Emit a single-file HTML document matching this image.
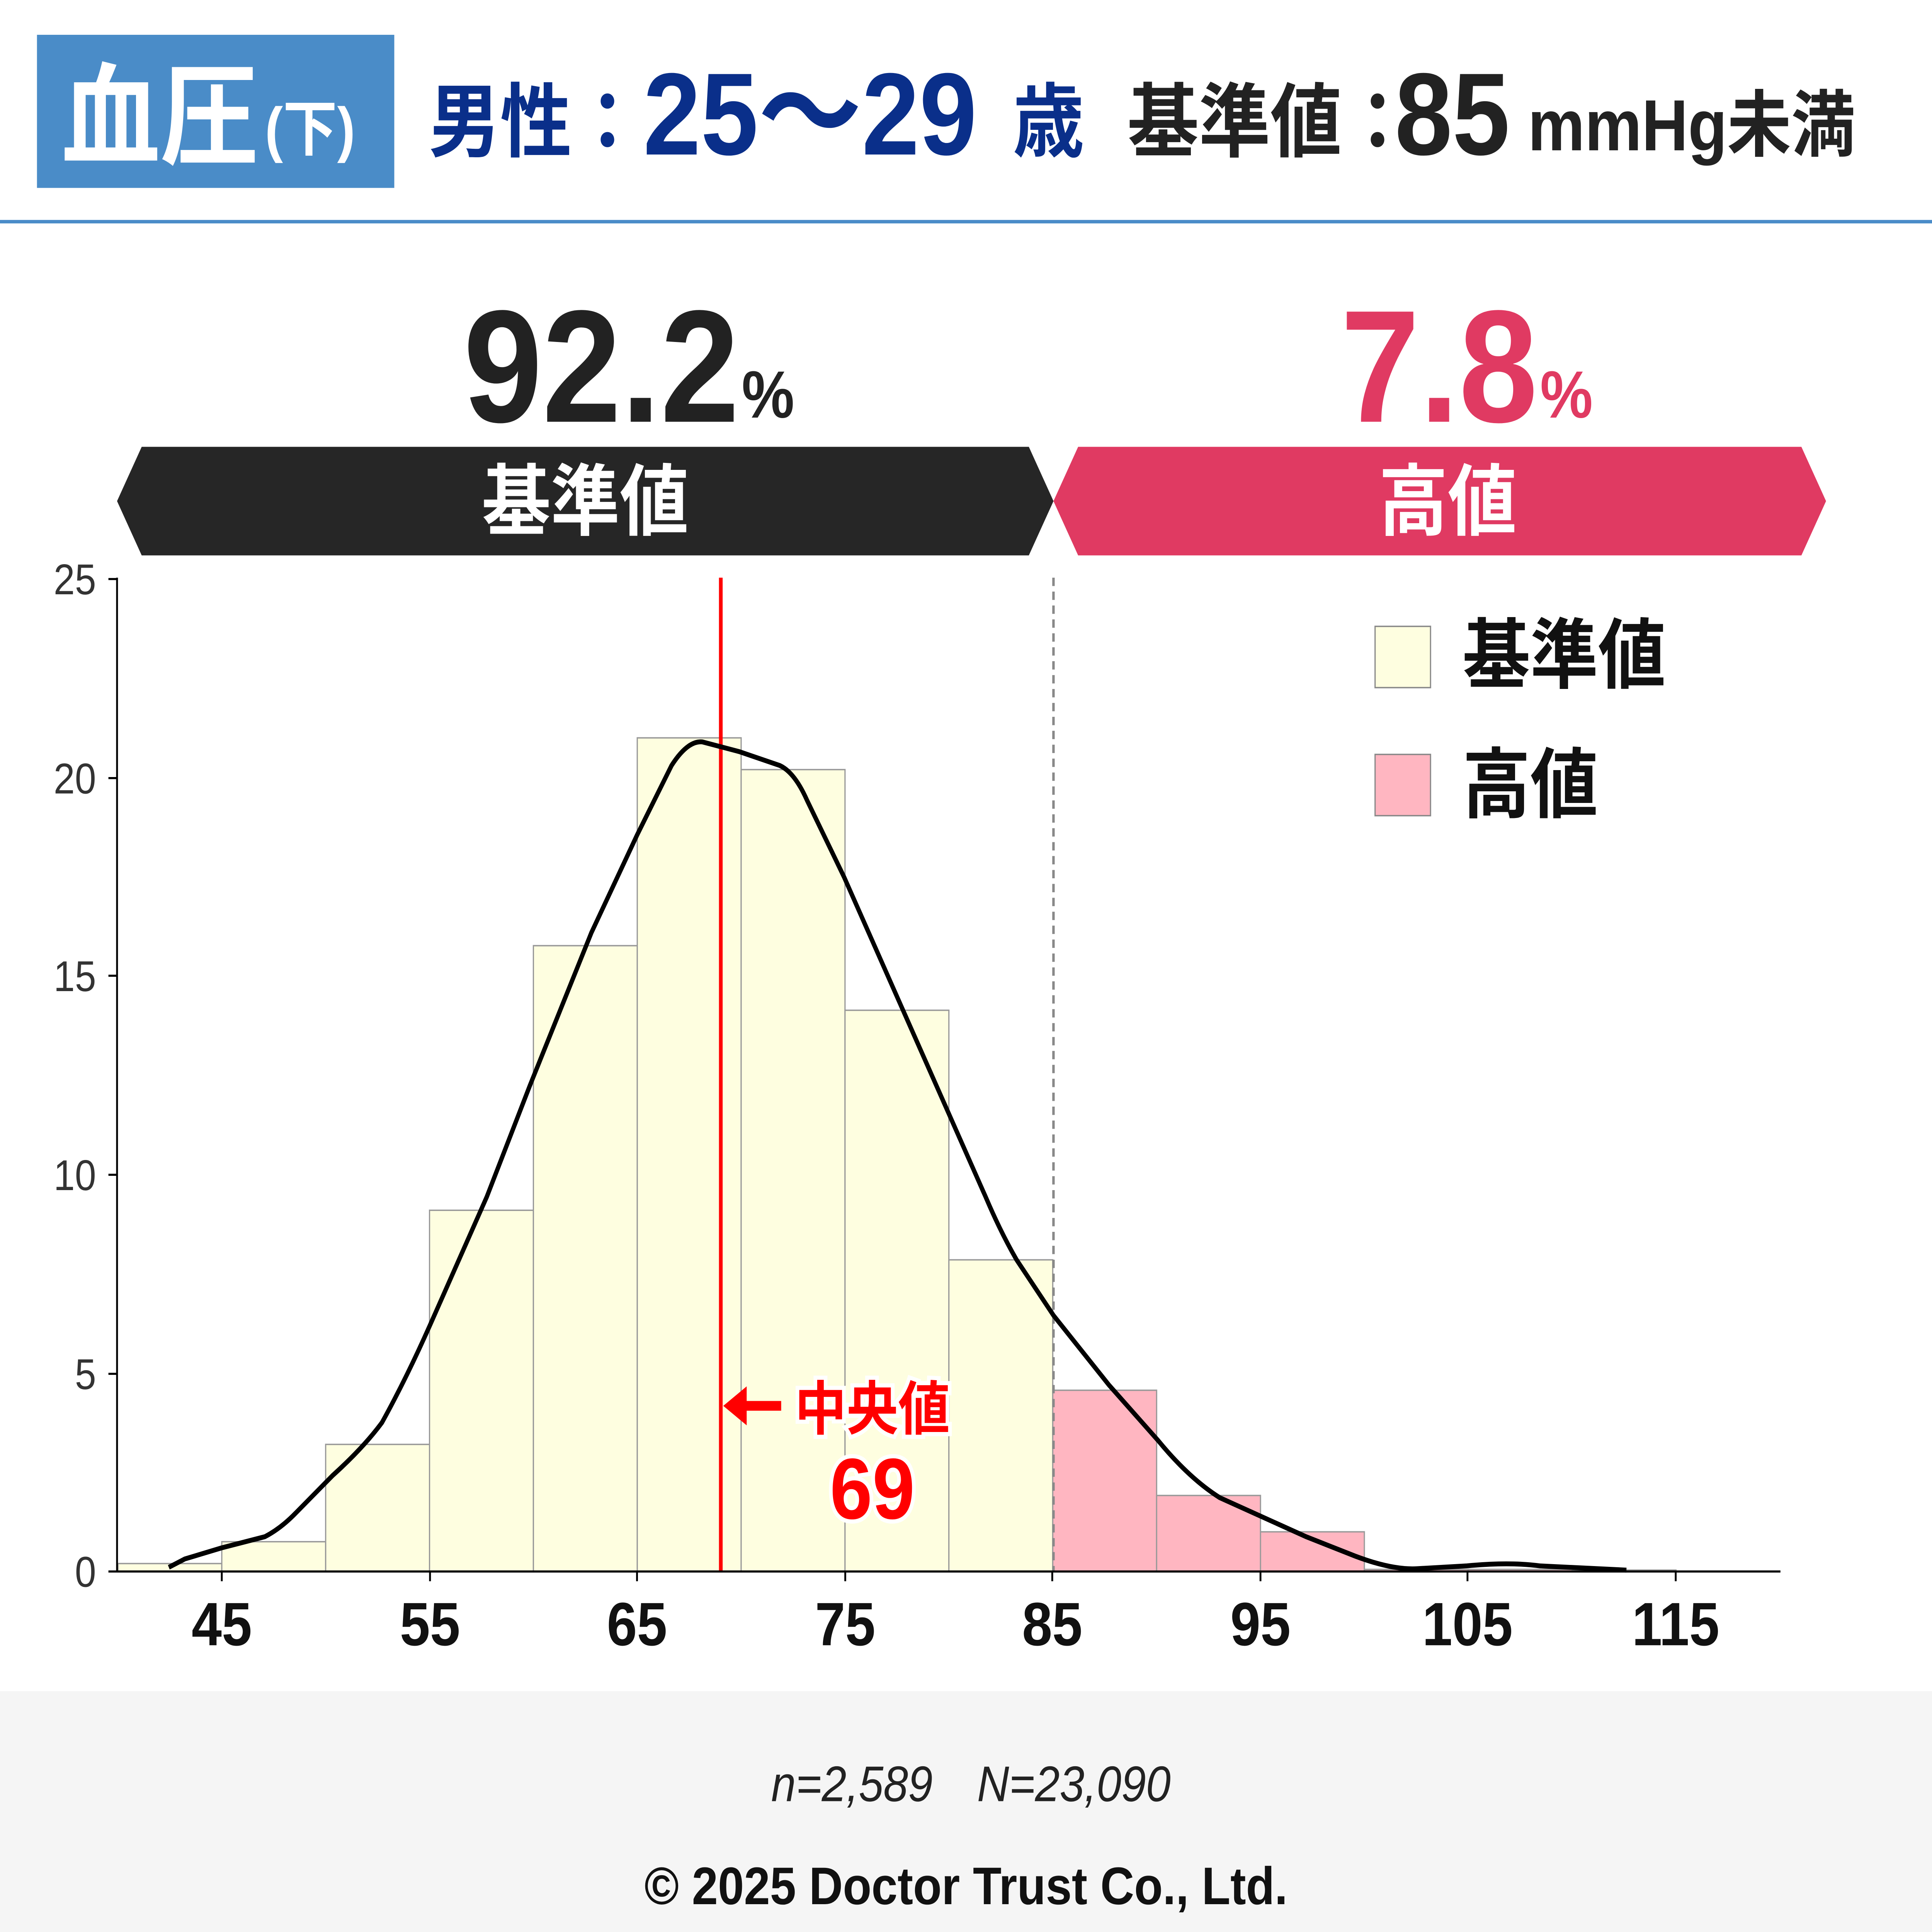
<!DOCTYPE html>
<html><head><meta charset="utf-8">
<style>
html,body{margin:0;padding:0;background:#fff;width:100%;height:100%;overflow:hidden;}
svg{display:block;width:100vw;height:100vh;}
text{font-family:"Liberation Sans","Noto Sans CJK JP",sans-serif;}
</style></head>
<body>
<svg xmlns="http://www.w3.org/2000/svg" viewBox="0 0 1568 1388" preserveAspectRatio="none">
<rect width="1568" height="1388" fill="#fff"/>
<rect x="30" y="25" width="290" height="110" fill="#4a8cc8"/>
<text x="50" y="112" font-size="80" font-weight="bold" fill="#fff">血圧</text>
<text x="215" y="108" font-size="44" font-weight="bold" fill="#fff">(下)</text>
<text x="348" y="108" font-size="58" font-weight="bold" fill="#0a2f8a">男性：</text>
<text x="522" y="111" font-size="84" font-weight="bold" fill="#0a2f8a">25～29</text>
<text x="822" y="108" font-size="58" font-weight="bold" fill="#0a2f8a">歳</text>
<text x="915" y="108" font-size="58" font-weight="bold" fill="#222">基準値：</text>
<text x="1132" y="111" font-size="84" font-weight="bold" fill="#222">85</text>
<text x="1240" y="108" font-size="52" font-weight="bold" fill="#222">mmHg未満</text>
<rect x="0" y="158" width="1568" height="2.5" fill="#4a8cc8"/>
<text x="600" y="303" font-size="115" font-weight="bold" fill="#222" text-anchor="end">92.2</text>
<text x="602" y="300" font-size="48" font-weight="bold" fill="#222">%</text>
<text x="1248" y="303" font-size="115" font-weight="bold" fill="#e03a62" text-anchor="end">7.8</text>
<text x="1250" y="300" font-size="48" font-weight="bold" fill="#e03a62">%</text>
<polygon points="95,360 115,321 835,321 855,360 835,399 115,399" fill="#262626"/>
<text x="475" y="380" font-size="56" font-weight="bold" fill="#fff" text-anchor="middle">基準値</text>
<polygon points="855,360 875,321 1462,321 1482,360 1462,399 875,399" fill="#e03a62"/>
<text x="1175" y="380" font-size="56" font-weight="bold" fill="#fff" text-anchor="middle">高値</text>
<g stroke="#999" stroke-width="1">
<rect x="95.7" y="1123.3" width="84.3" height="5.7" fill="#fefee0"/>
<rect x="180" y="1107.6" width="84.3" height="21.4" fill="#fefee0"/>
<rect x="264.3" y="1037.7" width="84.3" height="91.3" fill="#fefee0"/>
<rect x="348.6" y="869.5" width="84.3" height="259.5" fill="#fefee0"/>
<rect x="432.9" y="679.4" width="84.3" height="449.6" fill="#fefee0"/>
<rect x="517.2" y="530.1" width="84.3" height="598.9" fill="#fefee0"/>
<rect x="601.5" y="552.9" width="84.3" height="576.1" fill="#fefee0"/>
<rect x="685.8" y="725.8" width="84.3" height="403.2" fill="#fefee0"/>
<rect x="770.1" y="905.1" width="84.3" height="223.9" fill="#fefee0"/>
<rect x="854.4" y="998.8" width="84.3" height="130.2" fill="#ffb6c1"/>
<rect x="938.7" y="1074.4" width="84.3" height="54.6" fill="#ffb6c1"/>
<rect x="1023" y="1100.5" width="84.3" height="28.5" fill="#ffb6c1"/>
<rect x="1107.3" y="1127.5" width="84.3" height="1.5" fill="#ffb6c1"/>
<rect x="1191.6" y="1127.5" width="84.3" height="1.5" fill="#ffb6c1"/>
<rect x="1275.9" y="1128" width="84.3" height="1" fill="#ffb6c1"/>
</g>
<line x1="855" y1="415" x2="855" y2="1129" stroke="#888" stroke-width="2" stroke-dasharray="6,4"/>
<line x1="585" y1="415" x2="585" y2="1129" stroke="#ff0000" stroke-width="3"/>
<path d="M137,1126 L150,1120 L180,1112 L215,1104 Q228,1098 240,1087 L270,1060 Q295,1040 310,1022 Q330,990 350,950 L395,860 L430,780 L480,670 L517,600 L545,550 Q558,532 570,533 L600,540 L633,550 Q645,555 655,575 L685,630 L730,720 L770,800 L800,860 Q812,885 825,905 L855,945 L900,995 L940,1035 Q965,1062 990,1076 L1020,1088 L1060,1104 L1100,1118 Q1130,1128 1150,1127 L1190,1125 Q1225,1122 1250,1125 L1320,1128" fill="none" stroke="#000" stroke-width="3.5" stroke-linejoin="round"/>
<line x1="95" y1="415" x2="95" y2="1129" stroke="#000" stroke-width="1.5"/>
<line x1="95" y1="1129" x2="1445" y2="1129" stroke="#000" stroke-width="1.5"/>
<g font-size="31" fill="#333" text-anchor="end">
<text x="78" y="427">25</text><text x="78" y="570">20</text><text x="78" y="712">15</text>
<text x="78" y="855">10</text><text x="78" y="998">5</text><text x="78" y="1140">0</text>
</g>
<g stroke="#000" stroke-width="1.5">
<line x1="88" y1="416" x2="95" y2="416"/><line x1="88" y1="559" x2="95" y2="559"/><line x1="88" y1="701" x2="95" y2="701"/>
<line x1="88" y1="844" x2="95" y2="844"/><line x1="88" y1="987" x2="95" y2="987"/><line x1="88" y1="1129" x2="95" y2="1129"/>
<line x1="180" y1="1129" x2="180" y2="1136"/><line x1="349" y1="1129" x2="349" y2="1136"/><line x1="517" y1="1129" x2="517" y2="1136"/>
<line x1="686" y1="1129" x2="686" y2="1136"/><line x1="854" y1="1129" x2="854" y2="1136"/><line x1="1023" y1="1129" x2="1023" y2="1136"/>
<line x1="1191" y1="1129" x2="1191" y2="1136"/><line x1="1360" y1="1129" x2="1360" y2="1136"/>
</g>
<g font-size="44" font-weight="bold" fill="#111" text-anchor="middle">
<text x="180" y="1182">45</text><text x="349" y="1182">55</text><text x="517" y="1182">65</text><text x="686" y="1182">75</text>
<text x="854" y="1182">85</text><text x="1023" y="1182">95</text><text x="1191" y="1182">105</text><text x="1360" y="1182">115</text>
</g>
<rect x="1116" y="450" width="45" height="44" fill="#fefee0" stroke="#888" stroke-width="1"/>
<text x="1187" y="490" font-size="55" font-weight="bold" fill="#111">基準値</text>
<rect x="1116" y="542" width="45" height="44" fill="#ffb6c1" stroke="#888" stroke-width="1"/>
<text x="1187" y="583" font-size="55" font-weight="bold" fill="#111">高値</text>
<line x1="634" y1="1010" x2="600" y2="1010" stroke="#ff0000" stroke-width="7"/>
<polygon points="587,1010 606,996 606,1024" fill="#ff0000"/>
<text x="645" y="1027" font-size="42" font-weight="bold" fill="#ff0000" stroke="#fff" stroke-width="6" paint-order="stroke">中央値</text>
<text x="708" y="1091" font-size="62" font-weight="bold" fill="#ff0000" stroke="#fff" stroke-width="6" paint-order="stroke" text-anchor="middle">69</text>
<rect x="0" y="1215" width="1568" height="173" fill="#f5f5f5"/>
<text x="788" y="1294" font-size="36" font-style="italic" fill="#222" text-anchor="middle">n=2,589　N=23,090</text>
<text x="784" y="1368" font-size="38" font-weight="bold" fill="#111" text-anchor="middle">© 2025 Doctor Trust Co., Ltd.</text>
</svg>
</body></html>
